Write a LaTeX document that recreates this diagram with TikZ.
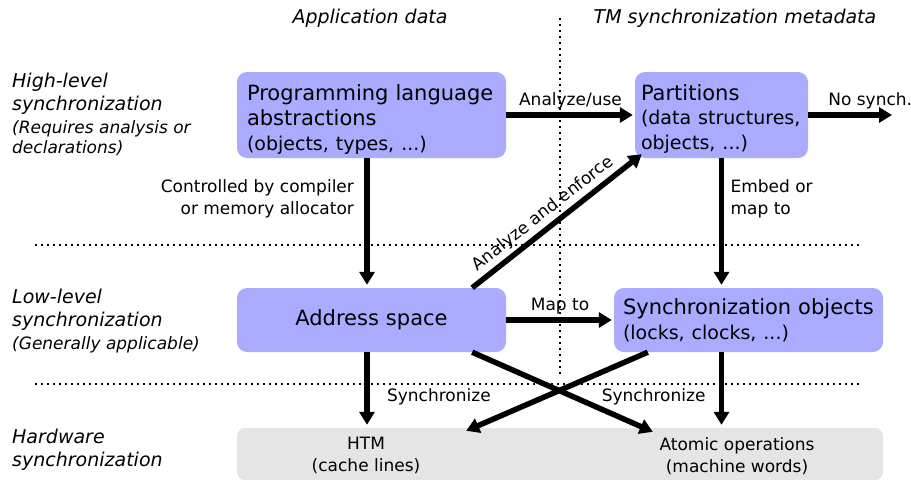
\documentclass[tikz,border=0pt]{standalone}
\usepackage{fontspec}
\setmainfont{DejaVu Sans}
\usetikzlibrary{arrows.meta}
\definecolor{boxblue}{RGB}{170,170,255}
\definecolor{hwgray}{RGB}{229,229,229}
\newcommand{\titlesize}{\fontsize{21}{25}\selectfont}
\newcommand{\subsize}{\fontsize{19}{24.5}\selectfont}
\newcommand{\labelsize}{\fontsize{17}{22}\selectfont}
\newcommand{\layersize}{\fontsize{19}{23}\selectfont}
\newcommand{\notesize}{\fontsize{17}{20.5}\selectfont}
\newcommand{\topstrut}{\rule{0pt}{24pt}}

\begin{document}
\begin{tikzpicture}[x=1pt, y=-1pt,
    synbox/.style={rectangle, rounded corners=10pt, fill=boxblue, align=left, inner xsep=10pt, font=\titlesize},
    hwtext/.style={align=center, font=\labelsize, minimum height=48pt},
    flow/.style={-{Triangle[length=13pt,width=15pt]}, line width=5.5pt},
    sep/.style={line width=2pt, dash pattern=on 2pt off 4pt},
    lbl/.style={font=\labelsize},
    layer/.style={anchor=north west, align=left, inner sep=0pt, font=\itshape\layersize},
    layernote/.style={anchor=north west, align=left, inner sep=0pt, font=\itshape\notesize}]
    \useasboundingbox (0,0) rectangle (911,482);

    % separators:
    \draw[sep] (560,18) -- (560,374);
    \draw[sep] (35,245) -- (860,245);
    \draw[sep] (35,384) -- (862,384);

    % column headers:
    \node[anchor=base, font=\itshape\layersize] (appdata) at (370,23) {Application data};
    \node[anchor=base, font=\itshape\layersize] (tmdata) at (735,23) {TM synchronization metadata};

    % levels:
    \node[layer] (high) at (12,73) {High-level\\synchronization};
    \node[layernote] (highnote) at (12,120) {(Requires analysis or\\declarations)};
    \node[layer] (low) at (12,289) {Low-level\\synchronization};
    \node[layernote] (lownote) at (12,336) {(Generally applicable)};
    \node[layer] (hard) at (12,429) {Hardware\\synchronization};

    % boxes:
    \node[synbox, text width=249pt, inner ysep=0pt, minimum height=86pt] (lang) at (371.5,115)
        {\topstrut Programming language\\abstractions\par\subsize (objects, types, ...)};
    \node[synbox, text width=161pt, inner xsep=6pt, inner ysep=0pt, minimum height=86pt] (part) at (721.5,115)
        {\topstrut Partitions\par\subsize (data structures,\\objects, ...)};
    \node[synbox, text width=249pt, align=center, minimum height=64pt] (addr) at (371.5,320)
        {Address space};
    \node[synbox, text width=251pt, inner xsep=9pt, minimum height=64pt] (sync) at (748.5,320)
        {Synchronization objects\par\subsize (locks, clocks, ...)};
    \node[rectangle, rounded corners=8pt, fill=hwgray, minimum width=646pt, minimum height=52pt] (hw) at (560,454) {};
    \node[hwtext, minimum width=200pt] (htm) at (366,455) {HTM\\(cache lines)};
    \node[hwtext, minimum width=168pt] (atomic) at (737,456) {Atomic operations\\(machine words)};
    \coordinate (nosync) at (892,115);

    % arrows:
    \draw[flow, shorten >=2pt] (lang.east) -- (part.west) node[midway, above, lbl] {Analyze/use};
    \draw[flow] (part.east) -- (nosync) node[pos=0.74, above, lbl] {No synch.};
    \draw[flow, shorten >=3pt] ([xshift=-4.5pt]lang.south) -- ([xshift=-4.5pt]addr.north)
        node[pos=0.31, left, lbl, align=right, xshift=-7pt] {Controlled by compiler\\or memory allocator};
    \draw[flow, shorten >=3pt] (part.south) -- (part.south |- sync.north)
        node[pos=0.31, right, lbl, align=left, xshift=3pt] {Embed or\\map to};
    \draw[flow] ([xshift=-34pt]addr.north east) -- ([xshift=7pt,yshift=4pt]part.south west)
        node[pos=0.47, above, sloped, lbl] {Analyze and enforce};
    \draw[flow, shorten >=2pt] (addr.east) -- (sync.west) node[midway, above, lbl] {Map to};
    \draw[flow, shorten >=3pt] ([xshift=-4.5pt]addr.south) -- ([xshift=-4.5pt]addr.south |- hw.north)
        node[pos=0.59, right, lbl, xshift=14pt] {Synchronize};
    \draw[flow, shorten >=3pt] (part.south |- sync.south) -- (part.south |- hw.north)
        node[pos=0.59, left, lbl, xshift=-10pt] {Synchronize};
    \draw[flow] ([xshift=-34pt]addr.south east) -- (atomic.north west);
    \draw[flow] ([xshift=34pt]sync.south west) -- (htm.north east);
\end{tikzpicture}
\end{document}
